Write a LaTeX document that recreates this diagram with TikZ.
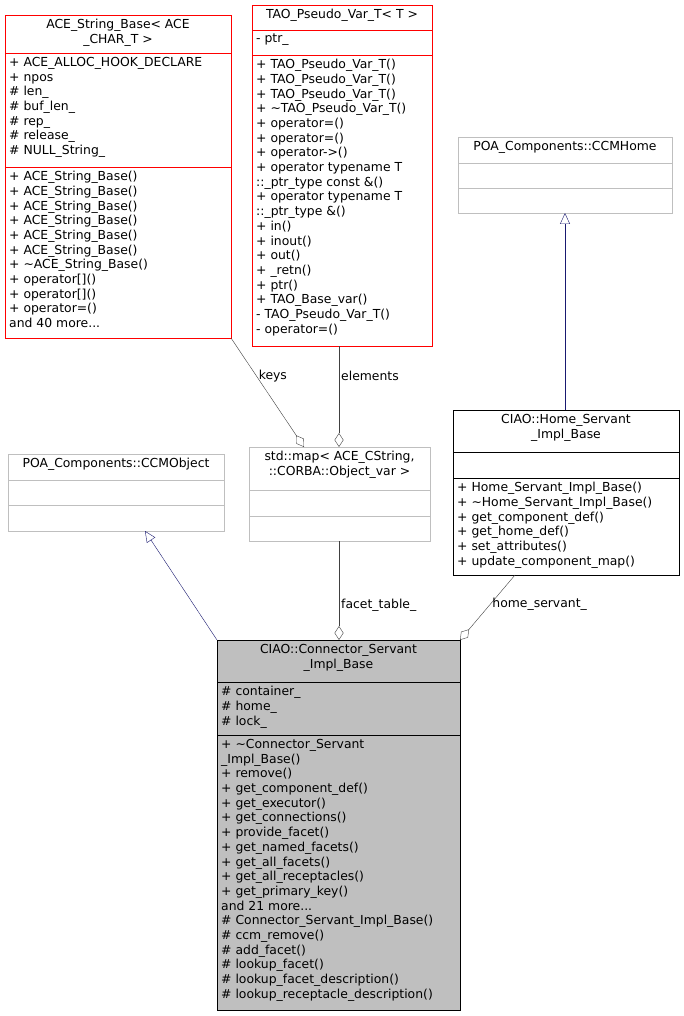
\documentclass[tikz,border=0pt]{standalone}
\usepackage{fontspec}
\setmainfont{DejaVu Sans}
\usetikzlibrary{arrows.meta,positioning}
\definecolor{edgegray}{RGB}{64,64,64}
\definecolor{boxgray}{RGB}{191,191,191}
\definecolor{inhblue}{RGB}{25,25,112}
\tikzset{
  part/.style={draw, anchor=north west, inner sep=0pt, outer sep=0pt},
  txt/.style={anchor=north west, inner sep=0pt, align=left, font=\fontsize{12.4}{14.7}\selectfont},
  ttl/.style={anchor=north, inner sep=0pt, align=center, font=\fontsize{12.4}{14.7}\selectfont},
  inherit/.style={draw=inhblue, -{Triangle[open, length=11pt, width=10pt]}},
  owns/.style={draw=edgegray, -{Diamond[open, length=14pt, width=9pt]}},
  lbl/.style={font=\fontsize{12.4}{14.7}\selectfont, inner sep=2pt}
}
% one class box: name, x, y, width, title h, attr h, method h, colour, title
\newcommand{\umlclass}[9]{%
  \node[part, draw=#8, minimum width=#4pt, minimum height=#5pt] (#1) at (#2,#3) {};
  \node[ttl] at ([yshift=-4pt]#1.north) {#9};
  \node[part, draw=#8, minimum width=#4pt, minimum height=#6pt] (#1-a) at (#1.south west) {};
  \node[part, draw=#8, minimum width=#4pt, minimum height=#7pt] (#1-m) at (#1-a.south west) {};
}
\begin{document}
\begin{tikzpicture}[x=1pt, y=-1pt]
\useasboundingbox (0,0) rectangle (684,1016);
\fill[white] (0,0) rectangle (684,1016);

% ACE string base
\umlclass{ace}{5}{15}{226}{38}{114}{171}{red}{ACE\_String\_Base< ACE\\\_CHAR\_T >}
\node[txt] at ([shift={(4,4)}]ace-a.north west) {+ ACE\_ALLOC\_HOOK\_DECLARE\\+ npos\\\# len\_\\\# buf\_len\_\\\# rep\_\\\# release\_\\\# NULL\_String\_};
\node[txt] at ([shift={(4,4)}]ace-m.north west) {+ ACE\_String\_Base()\\+ ACE\_String\_Base()\\+ ACE\_String\_Base()\\+ ACE\_String\_Base()\\+ ACE\_String\_Base()\\+ ACE\_String\_Base()\\+ \textasciitilde ACE\_String\_Base()\\+ operator[]()\\+ operator[]()\\+ operator=()\\and 40 more...};

% pseudo var
\umlclass{tao}{252}{5}{180}{25}{25}{291}{red}{TAO\_Pseudo\_Var\_T< T >}
\node[txt] at ([shift={(4,4)}]tao-a.north west) {- ptr\_};
\node[txt] at ([shift={(4,4)}]tao-m.north west) {+ TAO\_Pseudo\_Var\_T()\\+ TAO\_Pseudo\_Var\_T()\\+ TAO\_Pseudo\_Var\_T()\\+ \textasciitilde TAO\_Pseudo\_Var\_T()\\+ operator=()\\+ operator=()\\+ operator->()\\+ operator typename T\\::\_ptr\_type const \&()\\+ operator typename T\\::\_ptr\_type \&()\\+ in()\\+ inout()\\+ out()\\+ \_retn()\\+ ptr()\\+ TAO\_Base\_var()\\- TAO\_Pseudo\_Var\_T()\\- operator=()};

% CCMHome
\umlclass{home}{458}{137}{214}{26}{25}{25}{boxgray}{POA\_Components::CCMHome}

% home servant
\umlclass{hsrv}{453}{410}{226}{42}{26}{97}{black}{CIAO::Home\_Servant\\\_Impl\_Base}
\node[txt] at ([shift={(4,4)}]hsrv-m.north west) {+ Home\_Servant\_Impl\_Base()\\+ \textasciitilde Home\_Servant\_Impl\_Base()\\+ get\_component\_def()\\+ get\_home\_def()\\+ set\_attributes()\\+ update\_component\_map()};

% CCMObject
\umlclass{obj}{8}{454}{216}{26}{25}{26}{boxgray}{POA\_Components::CCMObject}

% map
\umlclass{map}{249}{447}{181}{43}{26}{25}{boxgray}{std::map< ACE\_CString,\\::CORBA::Object\_var >}

% connector servant
\fill[boxgray] (217,640) rectangle (460,1010);
\umlclass{conn}{217}{640}{243}{42}{53}{275}{black}{CIAO::Connector\_Servant\\\_Impl\_Base}
\node[txt] at ([shift={(4,4)}]conn-a.north west) {\# container\_\\\# home\_\\\# lock\_};
\node[txt] at ([shift={(4,4)}]conn-m.north west) {+ \textasciitilde Connector\_Servant\\\_Impl\_Base()\\+ remove()\\+ get\_component\_def()\\+ get\_executor()\\+ get\_connections()\\+ provide\_facet()\\+ get\_named\_facets()\\+ get\_all\_facets()\\+ get\_all\_receptacles()\\+ get\_primary\_key()\\and 21 more...\\\# Connector\_Servant\_Impl\_Base()\\\# ccm\_remove()\\\# add\_facet()\\\# lookup\_facet()\\\# lookup\_facet\_description()\\\# lookup\_receptacle\_description()};

% connectors
\draw[inherit] (hsrv.north -| 565,0) -- (home-m.south -| 565,0);
\draw[inherit] (conn.north west) -- (obj-m.south -| 145,0);
\draw[owns] (ace-m.south east) -- node[lbl, right, pos=0.35] {keys} (map.north -| 304,0);
\draw[owns] (tao-m.south -| 339,0) -- node[lbl, right, pos=0.3] {elements} (map.north -| 339,0);
\draw[owns] (map-m.south -| 339,0) -- node[lbl, right, pos=0.65] {facet\_table\_} (conn.north -| 339,0);
\draw[owns] (hsrv-m.south -| 515,0) -- node[lbl, right, pos=0.45] {home\_servant\_} (conn.north east);
\end{tikzpicture}
\end{document}
